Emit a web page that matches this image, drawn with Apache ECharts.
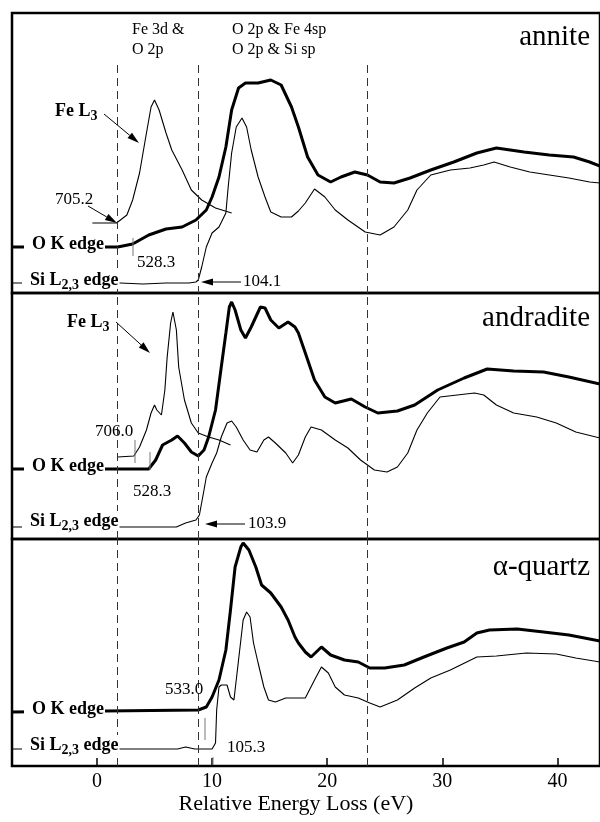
<!DOCTYPE html>
<html>
<head>
<meta charset="utf-8">
<script src="https://cdn.jsdelivr.net/npm/echarts@6/dist/echarts.min.js"></script>
<style>
  html, body { margin: 0; padding: 0; background: #fff; }
  #main { width: 600px; height: 822px; }
</style>
</head>
<body>
<div id="main"></div>
<script>
// energy (eV, relative) vs intensity (arbitrary units)
var xTicks = [0, 10, 20, 30, 40];
var edgeLines = [1.8, 8.8, 23.5];

// annite
var annite_OK = [[-7.4,46],[0.9,46],[1.8,46],[3.1,49],[4.5,58],[6.0,64],[7.4,66],[8.6,73],[9.5,83],[10.0,96],[10.6,116],[11.2,146],[11.7,183],[12.3,205],[12.9,210],[14.0,210],[15.1,213],[16.0,208],[16.9,186],[17.5,166],[18.3,136],[19.2,118],[20.3,111],[21.2,116],[22.4,121],[23.5,118],[24.6,111],[25.8,110],[27.2,115],[29.0,123],[31.0,131],[33.0,140],[34.7,145],[37.1,141],[39.3,138],[41.4,136],[42.8,131],[43.7,127]];
var annite_Si = [[-7.4,10],[2.0,10],[4.0,9],[6.0,10],[8.0,10],[8.6,11],[8.8,13],[9.1,26],[9.5,46],[10.0,60],[10.6,66],[11.2,80],[11.4,106],[11.7,140],[12.1,166],[12.6,175],[13.0,166],[13.4,143],[14.0,116],[14.6,96],[15.1,81],[16.0,76],[16.9,76],[17.5,82],[18.1,90],[18.9,104],[19.8,96],[20.7,83],[21.8,73],[23.3,61],[24.6,58],[25.8,66],[27.0,83],[27.8,103],[29.0,118],[30.7,123],[32.4,125],[33.6,128],[34.5,131],[35.9,126],[37.6,121],[39.3,118],[41.0,115],[42.8,111],[43.7,110]];
var annite_Fe = [[-0.4,70],[1.7,70],[2.6,78],[3.1,93],[3.7,120],[4.3,160],[4.7,186],[5.0,193],[5.4,183],[6.0,160],[6.5,143],[7.4,123],[8.2,103],[9.1,93],[10.3,85],[11.7,80]];

// andradite
var andradite_OK = [[-7.4,70],[4.5,70],[5.1,79],[5.7,94],[6.5,99],[7.0,103],[7.6,96],[8.2,87],[8.8,83],[9.3,89],[9.7,102],[10.3,129],[10.8,172],[11.2,206],[11.5,232],[11.7,237],[12.0,229],[12.5,209],[12.9,201],[13.4,212],[14.2,232],[14.6,231],[15.1,219],[15.8,211],[16.6,217],[17.2,212],[17.5,206],[18.1,186],[18.9,159],[19.8,142],[20.7,136],[22.1,140],[23.3,132],[24.4,126],[26.1,128],[27.6,134],[29.6,149],[31.9,161],[33.9,170],[36.2,168],[38.8,167],[41.0,162],[43.7,155]];
var andradite_Si = [[-7.4,12],[6.9,12],[7.7,16],[8.6,19],[8.9,24],[9.3,49],[9.5,62],[10.0,76],[10.4,86],[10.8,102],[11.3,116],[11.7,118],[12.1,112],[12.7,99],[13.3,89],[13.9,87],[14.5,99],[14.9,102],[15.5,96],[16.4,86],[17.0,76],[17.5,84],[18.1,102],[18.6,112],[19.5,109],[20.7,99],[21.8,91],[22.9,79],[24.1,69],[25.2,67],[26.1,72],[27.0,86],[27.8,109],[28.7,126],[29.8,142],[31.3,144],[32.8,146],[33.6,144],[34.7,134],[36.2,126],[38.2,122],[39.9,116],[41.6,107],[43.7,101]];
var andradite_Fe = [[1.8,82],[3.2,83],[3.7,92],[4.3,109],[4.7,126],[5.0,134],[5.2,129],[5.6,124],[5.9,149],[6.1,182],[6.4,216],[6.6,227],[6.9,209],[7.1,172],[7.6,139],[8.2,116],[8.8,106],[9.7,102],[10.6,99],[11.6,94]];

// alpha-quartz
var quartz_OK = [[-7.4,54],[8.8,56],[9.5,59],[10.0,69],[10.6,86],[11.2,116],[11.6,156],[12.0,199],[12.5,219],[12.7,223],[13.2,216],[13.8,199],[14.3,181],[15.1,173],[16.0,159],[16.6,146],[17.2,129],[17.5,123],[18.1,114],[18.6,109],[19.5,119],[20.3,111],[21.5,106],[22.7,104],[23.7,98],[25.0,98],[26.7,101],[28.4,109],[30.4,118],[31.9,124],[33.0,133],[34.1,136],[36.5,137],[38.8,134],[41.0,131],[43.7,125]];
var quartz_Si = [[-7.4,17],[7.0,17],[7.7,19],[8.5,17],[10.0,17],[10.3,23],[10.4,56],[10.6,79],[10.8,81],[11.3,81],[11.6,69],[11.9,66],[12.0,76],[12.3,106],[12.7,146],[13.0,154],[13.3,149],[13.6,123],[14.0,103],[14.5,79],[14.9,66],[15.5,64],[16.4,68],[17.5,68],[18.1,68],[18.9,86],[19.5,99],[20.1,93],[20.7,79],[21.5,71],[22.7,68],[23.7,63],[24.6,59],[26.1,66],[27.6,78],[29.0,88],[30.7,96],[33.0,109],[34.7,110],[37.3,113],[39.9,112],[41.6,108],[43.7,104]];

var FONT = '"Liberation Serif", "Times New Roman", serif';
var myChart = echarts.init(document.getElementById('main'));

// measure text so subscripts sit right after their base text
var ctx = document.createElement('canvas').getContext('2d');
function textWidth(s, font) {
    ctx.font = font;
    return ctx.measureText(s).width;
}

function txt(x, y, s, size, bold, align) {
    return {
        type: 'text', x: x, y: y, z: 100,
        style: {
            text: s, fill: '#000',
            font: (bold ? 'bold ' : '') + size + 'px ' + FONT,
            textAlign: align || 'left', textVerticalAlign: 'middle',
            align: align || 'left', verticalAlign: 'middle'
        }
    };
}

// bold label with subscript, e.g. Si L_2,3 edge
function subLabel(x, y, pre, sub, post, size, blank) {
    var f1 = 'bold ' + size + 'px ' + FONT;
    var f2 = 'bold ' + Math.round(size * 0.75) + 'px ' + FONT;
    var w1 = textWidth(pre, f1), w2 = textWidth(sub, f2), w3 = post ? textWidth(post, f1) : 0;
    var out = [];
    if (blank) {
        out.push({type: 'rect', z: 99, shape: {x: x - 8, y: y - 10, width: w1 + w2 + w3 + 9, height: 19}, style: {fill: '#fff'}});
    }
    out.push(txt(x, y, pre, size, true));
    out.push(txt(x + w1, y + 5, sub, Math.round(size * 0.75), true));
    if (post) out.push(txt(x + w1 + w2, y, post, size, true));
    return out;
}

function arrow(x1, y1, x2, y2) {
    var a = Math.atan2(y2 - y1, x2 - x1), L = 12, W = 3.5;
    var bx = x2 - L * Math.cos(a), by = y2 - L * Math.sin(a);
    return [
        {type: 'line', z: 100, shape: {x1: x1, y1: y1, x2: bx, y2: by}, style: {stroke: '#000', lineWidth: 1}},
        {type: 'polygon', z: 100, shape: {points: [[x2, y2], [bx - W * Math.sin(a), by + W * Math.cos(a)], [bx + W * Math.sin(a), by - W * Math.cos(a)]]}, style: {fill: '#000'}}
    ];
}

function tick(x, y1, y2) {
    return {type: 'line', z: 100, shape: {x1: x, y1: y1, x2: x, y2: y2}, style: {stroke: '#777', lineWidth: 1}};
}

var graphics = [].concat(
    // annite panel
    txt(132, 30, 'Fe 3d &', 16), txt(132, 50, 'O 2p', 16),
    txt(232, 30, 'O 2p & Fe 4sp', 16), txt(232, 50, 'O 2p & Si sp', 16),
    txt(590, 37, 'annite', 29, false, 'right'),
    subLabel(55, 111, 'Fe L', '3', '', 18, false),
    arrow(104, 114, 139, 143),
    txt(55, 200, '705.2', 17), arrow(88, 206, 117, 223),
    subLabel(32, 244, 'O K edge', '', '', 18, true),
    txt(137, 263, '528.3', 17), tick(133, 238, 256),
    subLabel(30, 280, 'Si L', '2,3', ' edge', 18, true),
    txt(243, 282, '104.1', 17), arrow(241, 282, 201, 282),
    // andradite panel
    txt(590, 318, 'andradite', 29, false, 'right'),
    subLabel(67, 322, 'Fe L', '3', '', 18, false),
    arrow(116, 322, 150, 353),
    txt(95, 432, '706.0', 17), tick(135, 440, 463),
    subLabel(32, 466, 'O K edge', '', '', 18, true),
    txt(133, 492, '528.3', 17), tick(150, 452, 470),
    subLabel(30, 521, 'Si L', '2,3', ' edge', 18, true),
    txt(248, 524, '103.9', 17), arrow(245, 524, 205, 524),
    // quartz panel
    txt(590, 567, '\u03b1-quartz', 29, false, 'right'),
    txt(165, 690, '533.0', 17), tick(205, 718, 740),
    subLabel(32, 709, 'O K edge', '', '', 18, true),
    subLabel(30, 745, 'Si L', '2,3', ' edge', 18, true),
    txt(227, 748, '105.3', 17), tick(213, 757, 765)
);

var panels = [
    {top: 13, height: 280},
    {top: 293, height: 246},
    {top: 539, height: 227}
];

function dashed(panel) {
    var data;
    if (panel === 0) {
        data = edgeLines.map(function (x) { return [{coord: [x, 228]}, {coord: [x, 0]}]; });
    } else {
        data = edgeLines.map(function (x) { return {xAxis: x}; });
    }
    return {
        silent: true, symbol: ['none', 'none'], label: {show: false},
        lineStyle: {color: '#333', width: 1, type: [8, 5]},
        data: data
    };
}

function line(data, panel, thick, marks) {
    return {
        type: 'line', xAxisIndex: panel, yAxisIndex: panel,
        data: data, symbol: 'none', showSymbol: false, animation: false,
        lineStyle: {color: '#000', width: thick ? 3 : 1.1},
        z: thick ? 4 : 3,
        markLine: marks
    };
}

option = {
    backgroundColor: '#fff',
    animation: false,
    grid: panels.map(function (p) {
        return {left: 12, right: -4, top: p.top, height: p.height, show: true, borderColor: '#000', borderWidth: 2.5, backgroundColor: 'transparent'};
    }),
    xAxis: panels.map(function (p, i) {
        var last = i === 2;
        return {
            type: 'value', gridIndex: i, min: -7.38, max: 43.7,
            splitLine: {show: false},
            axisLine: {show: false},
            axisTick: {show: last, inside: true, length: 8, customValues: xTicks, lineStyle: {color: '#000', width: 1.5}},
            axisLabel: {show: last, customValues: xTicks, margin: 6, color: '#000', fontFamily: FONT, fontSize: 20},
            name: last ? 'Relative Energy Loss (eV)' : '',
            nameLocation: 'middle', nameGap: 25,
            nameTextStyle: {color: '#000', fontFamily: FONT, fontSize: 22, padding: [0, 20, 0, 0]}
        };
    }),
    yAxis: panels.map(function (p, i) {
        return {type: 'value', gridIndex: i, min: 0, max: p.height, show: false, splitLine: {show: false}};
    }),
    series: [
        line(annite_OK, 0, true, dashed(0)),
        line(annite_Si, 0, false),
        line(annite_Fe, 0, false),
        line(andradite_OK, 1, true, dashed(1)),
        line(andradite_Si, 1, false),
        line(andradite_Fe, 1, false),
        line(quartz_OK, 2, true, dashed(2)),
        line(quartz_Si, 2, false)
    ],
    graphic: graphics
};

myChart.setOption(option);
</script>
</body>
</html>
